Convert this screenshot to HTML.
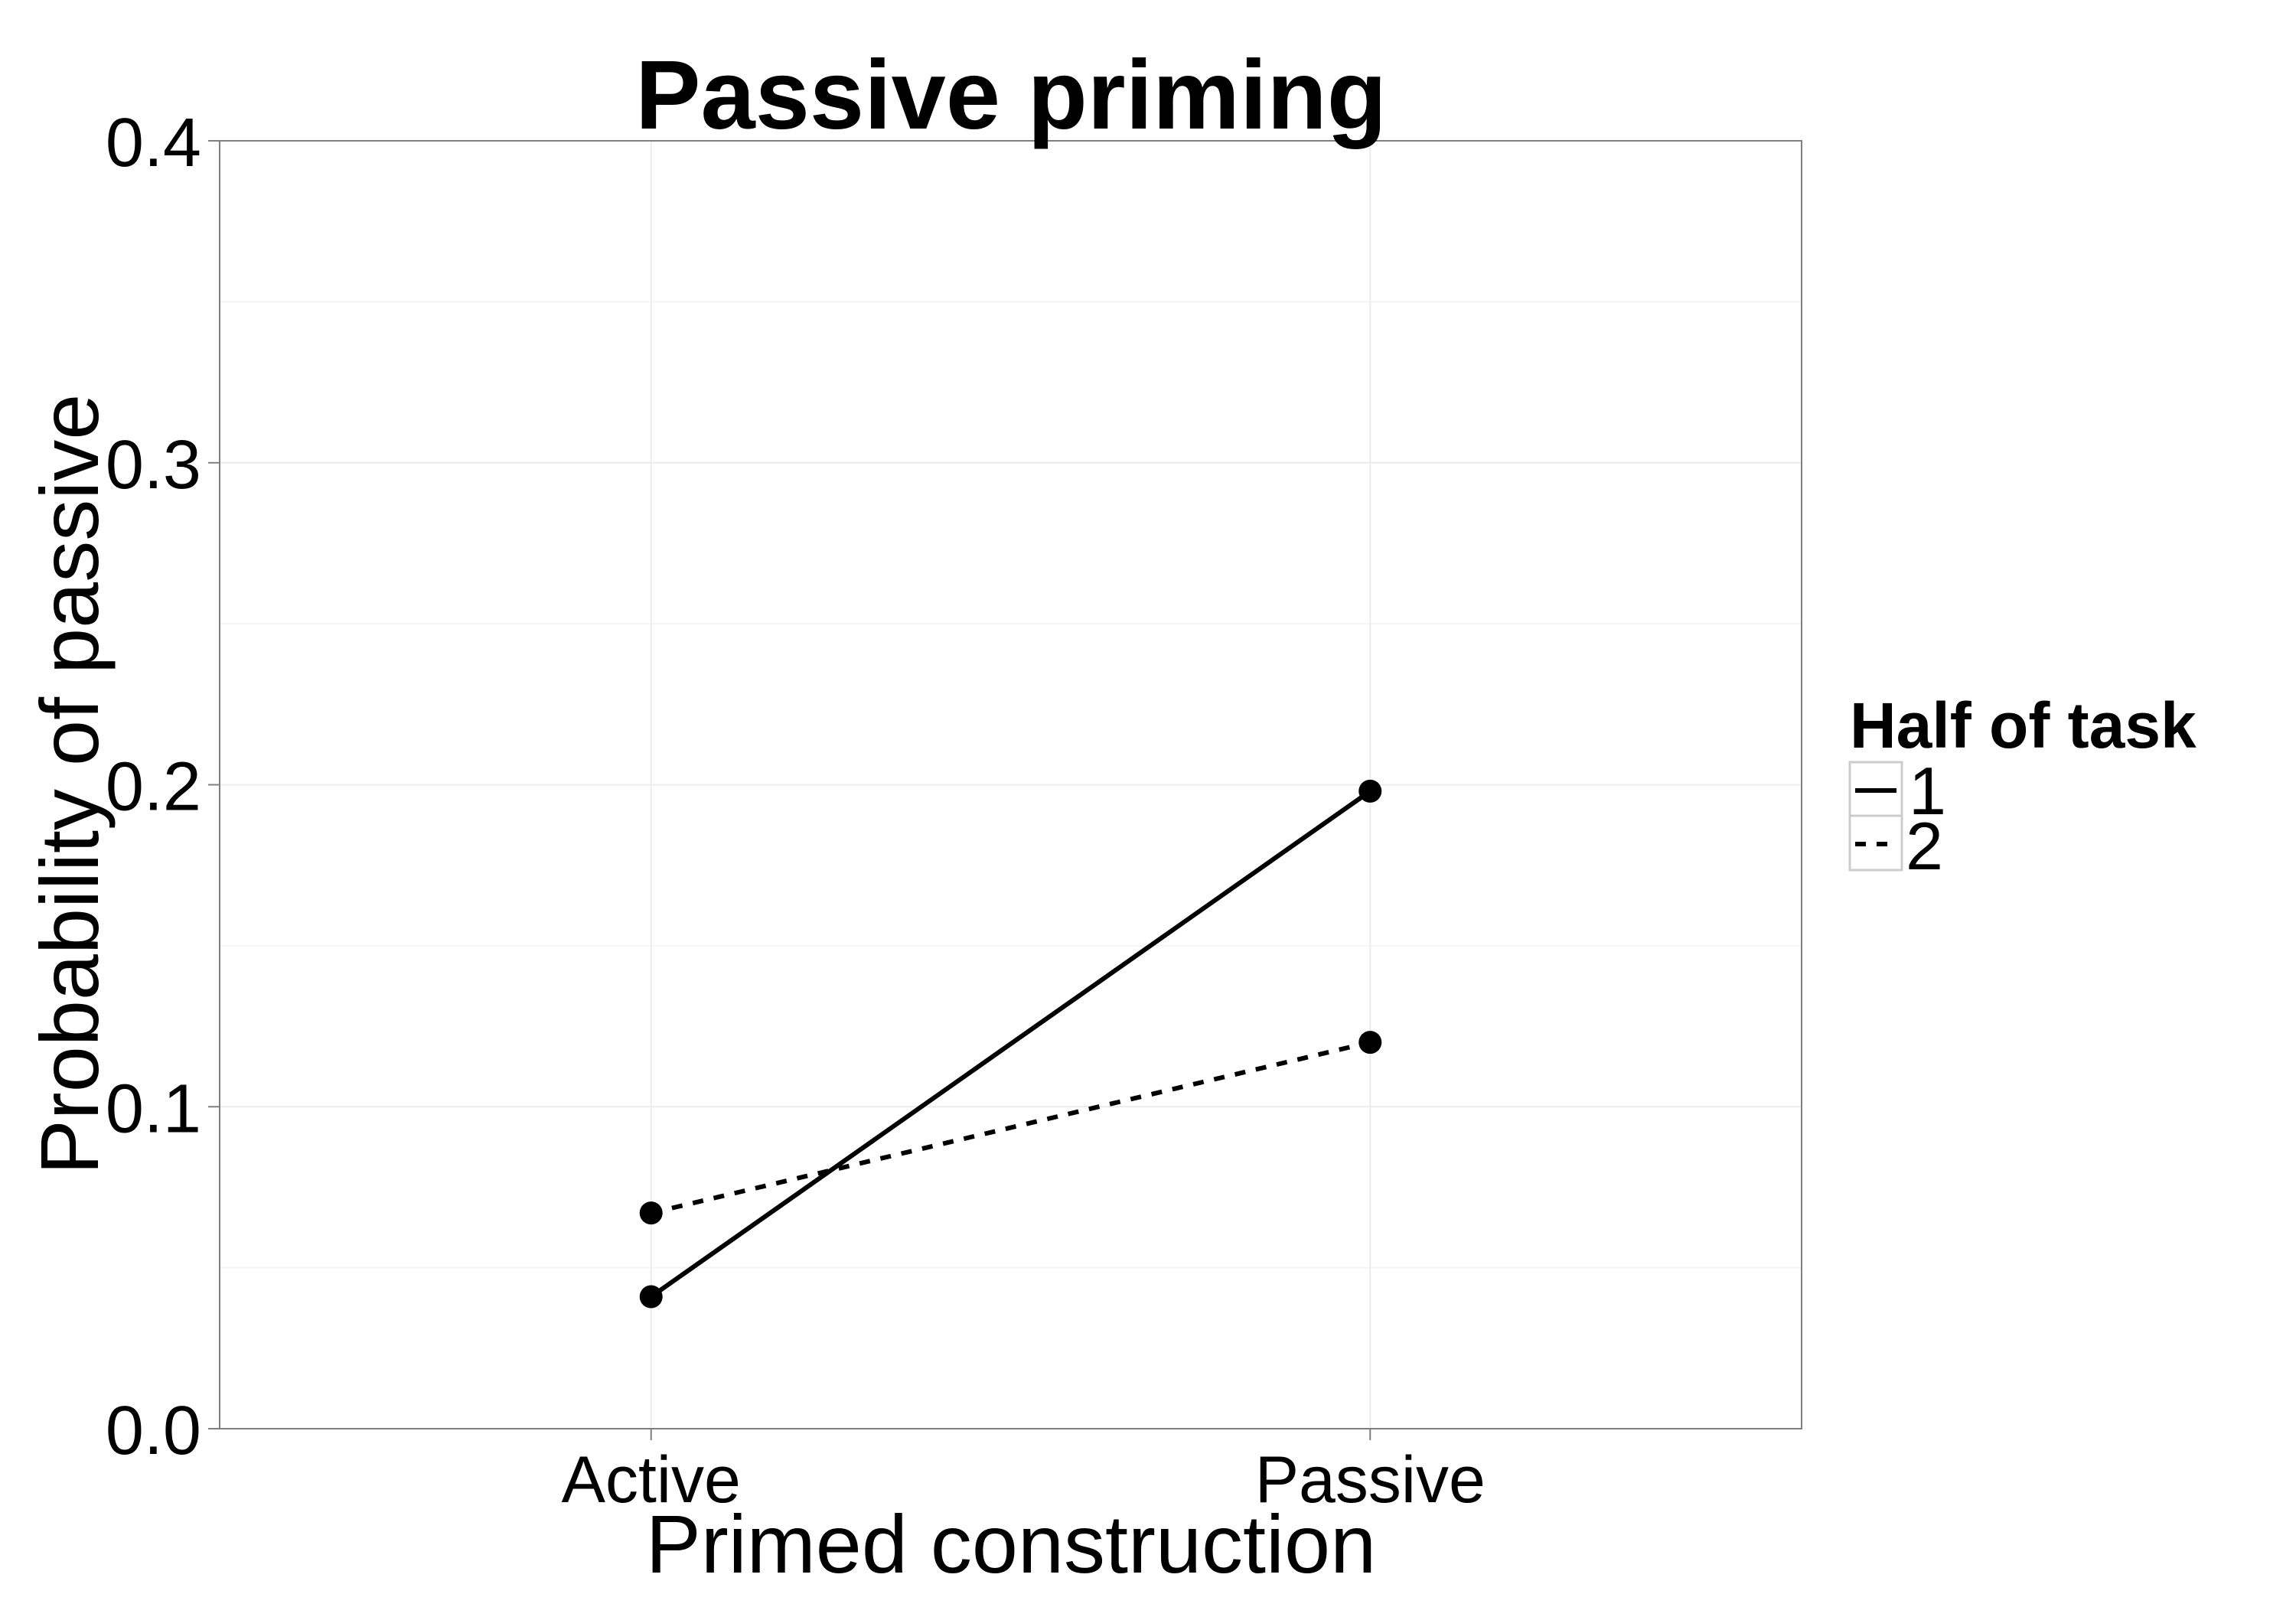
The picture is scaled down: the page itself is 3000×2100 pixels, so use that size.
<!DOCTYPE html>
<html><head><meta charset="utf-8"><style>
html,body{margin:0;padding:0;background:#fff;}
svg{display:block;font-family:"Liberation Sans",Arial,sans-serif;}
</style></head><body>
<svg id="chart" width="3000" height="2100" viewBox="0 0 3000 2100" xmlns="http://www.w3.org/2000/svg">
<rect x="0" y="0" width="3000" height="2100" fill="#fff"/>
<g id="grid"></g>
<g id="series"></g>
<rect x="287" y="184" width="2067" height="1683" fill="none" stroke="#7f7f7f" stroke-width="2"/>
<g id="axes"></g>
<text x="1321" y="168" font-size="128" font-weight="bold" text-anchor="middle">Passive priming</text>
<text x="1321" y="2055" font-size="108" text-anchor="middle">Primed construction</text>
<text transform="translate(128,1025) rotate(-90)" font-size="108" text-anchor="middle">Probability of passive</text>
<g>
<text x="2417" y="977" font-size="84" font-weight="bold">Half of task</text>
<rect x="2417" y="996" width="68" height="70" fill="#fff" stroke="#ccc" stroke-width="3"/>
<line x1="2424" y1="1033" x2="2478" y2="1033" stroke="#000" stroke-width="6"/>
<text x="2494" y="1064" font-size="88">1</text>
<rect x="2417" y="1066" width="68" height="71" fill="#fff" stroke="#ccc" stroke-width="3"/>
<line x1="2424" y1="1103" x2="2478" y2="1103" stroke="#000" stroke-width="6" stroke-dasharray="14,14"/>
<text x="2490" y="1136" font-size="88">2</text>
</g>
</svg>
<script>
const categories = ["Active", "Passive"];
const half1Values = [0.041, 0.198];
const half2Values = [0.067, 0.120];
const yTicks = [0, 0.1, 0.2, 0.3, 0.4];
const yTickLabels = ["0.0", "0.1", "0.2", "0.3", "0.4"];
const yMinor = [0.05, 0.15, 0.25, 0.35];

const NS = "http://www.w3.org/2000/svg";
const L = 287, R = 2354, T = 184, B = 1867;
function xPos(i) { return L + (R - L) * (i + 0.6) / (categories.length + 0.2); }
function yPos(v) { return B - (v / 0.4) * (B - T); }
function mk(tag, attrs, parent) {
  const e = document.createElementNS(NS, tag);
  for (const k in attrs) e.setAttribute(k, attrs[k]);
  parent.appendChild(e);
  return e;
}
const grid = document.getElementById("grid");
const axes = document.getElementById("axes");
const series = document.getElementById("series");

yMinor.forEach(v => {
  const l = mk("line", {x1: L, x2: R, y1: yPos(v), y2: yPos(v), stroke: "#f5f5f5", "stroke-width": 2}, grid);
  
  
});
yTicks.forEach((v, i) => {
  const g = mk("line", {x1: L, x2: R, y1: yPos(v), y2: yPos(v), stroke: "#ececec", "stroke-width": 2}, grid);
  
  
  const t = mk("line", {x1: L - 15, x2: L, y1: yPos(v), y2: yPos(v), stroke: "#7f7f7f", "stroke-width": 2}, axes);
  
  
  const tx = mk("text", {x: L - 24, y: yPos(v) + 33, "font-size": 90, "text-anchor": "end"}, axes);
  tx.textContent = yTickLabels[i];
  
  
});
categories.forEach((c, i) => {
  const g = mk("line", {x1: xPos(i), x2: xPos(i), y1: T, y2: B, stroke: "#ececec", "stroke-width": 2}, grid);
  
  
  const t = mk("line", {x1: xPos(i), x2: xPos(i), y1: B, y2: B + 15, stroke: "#7f7f7f", "stroke-width": 2}, axes);
  
  
  const tx = mk("text", {x: xPos(i), y: 1963, "font-size": 86, "text-anchor": "middle"}, axes);
  tx.textContent = c;
  
  
});
function drawSeries(vals, dash, name) {
  const pts = vals.map((v, i) => xPos(i) + "," + yPos(v)).join(" ");
  const pl = mk("polyline", {points: pts, fill: "none", stroke: "#000", "stroke-width": 6}, series);
  if (dash) pl.setAttribute("stroke-dasharray", "14,14");
  
  
  vals.forEach((v, i) => {
    const c = mk("circle", {cx: xPos(i), cy: yPos(v), r: 15, fill: "#000"}, series);
    
    
  });
}
drawSeries(half1Values, false, "half-1");
drawSeries(half2Values, true, "half-2");
</script>
</body></html>
